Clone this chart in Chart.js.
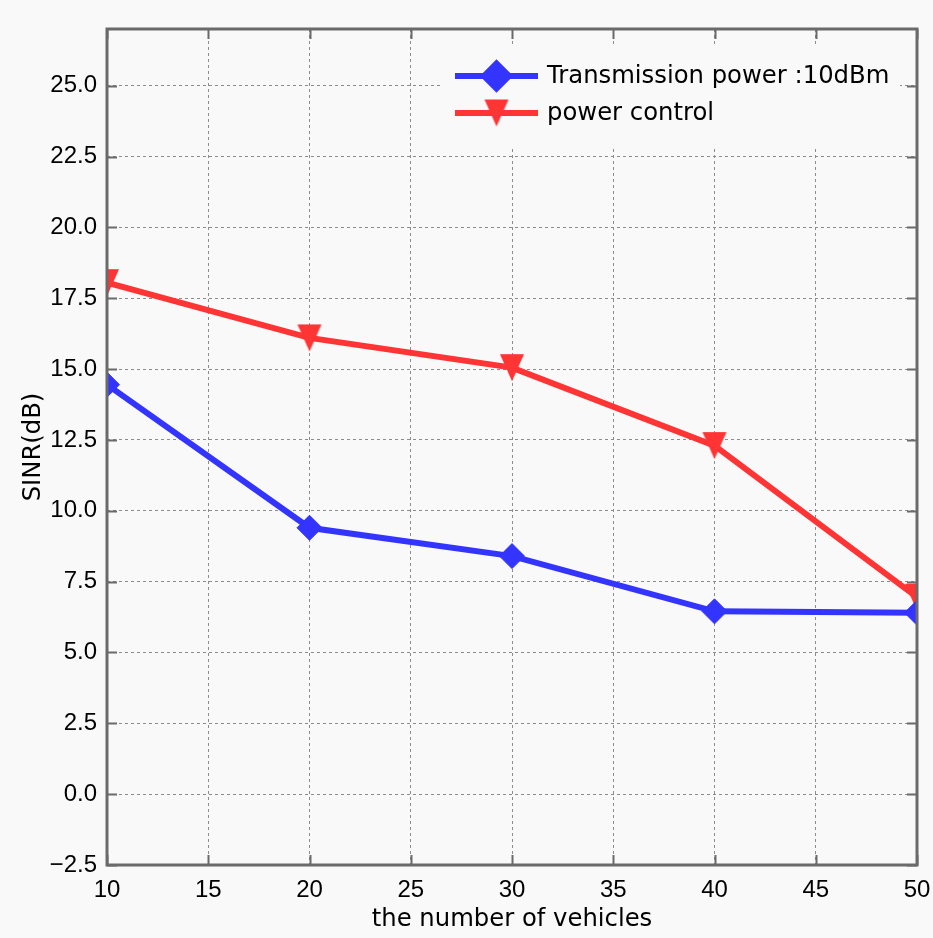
<!DOCTYPE html>
<html>
<head>
<meta charset="utf-8">
<script src="https://cdn.jsdelivr.net/npm/chart.js@4.4.0/dist/chart.umd.min.js"></script>
<style>
  html, body { margin: 0; padding: 0; background: #f9f9f9; }
  #wrap { width: 933px; height: 938px; }
</style>
</head>
<body>
<div id="wrap"><canvas id="sinr" width="933" height="938"></canvas></div>
<script>
const vehicles = [10, 20, 30, 40, 50];
const fixedPower = [14.45, 9.4, 8.4, 6.45, 6.4];
const powerControl = [18.05, 16.1, 15.05, 12.3, 6.95];
const seriesNames = ['Transmission power :10dBm', 'power control'];

const bg = '#f9f9f9'
const blue = '#3434ff'
const red = '#ff3434'
const frameColor = '#6a6a6a'
const textFont = 'DejaVu Sans'

// downward triangle, centred on its bounding box
function makeTriangle(color) {
  let c = document.createElement('canvas')
  c.width = 26
  c.height = 29
  let g = c.getContext('2d')
  g.fillStyle = color
  g.beginPath()
  g.moveTo(1, 1)
  g.lineTo(25, 1)
  g.lineTo(13, 28)
  g.closePath()
  g.fill()
  return c
}
const redTriangle = makeTriangle(red)

function fmtTick(v) {
  return v.toFixed(1).replace('-', '\u2212')
}

const background = {
  id: 'background',
  beforeDraw(chart) {
    const ctx = chart.ctx
    ctx.save()
    ctx.fillStyle = bg
    ctx.fillRect(0, 0, chart.width, chart.height)
    ctx.restore()
  }
}

// box round the plot with inward tick marks on all four sides
const frame = {
  id: 'frame',
  afterDatasetsDraw(chart) {
    const {ctx, chartArea: a, scales} = chart
    ctx.save()
    ctx.strokeStyle = frameColor
    ctx.lineWidth = 2
    ctx.beginPath()
    scales.x.ticks.forEach(t => {
      let px = Math.round(scales.x.getPixelForValue(t.value)) + 0.5
      ctx.moveTo(px, a.bottom); ctx.lineTo(px, a.bottom - 10)
      ctx.moveTo(px, a.top); ctx.lineTo(px, a.top + 10)
    })
    scales.y.ticks.forEach(t => {
      let py = Math.round(scales.y.getPixelForValue(t.value)) + 0.5
      ctx.moveTo(a.left, py); ctx.lineTo(a.left + 10, py)
      ctx.moveTo(a.right, py); ctx.lineTo(a.right - 10, py)
    })
    ctx.stroke()
    ctx.lineWidth = 3
    ctx.strokeRect(a.left, a.top, a.right - a.left, a.bottom - a.top)
    ctx.restore()
  }
}

// legend sits inside the plot, upper right, over the grid
const insideLegend = {
  id: 'insideLegend',
  afterDatasetsDraw(chart) {
    const {ctx, chartArea: a} = chart
    const boxL = a.right - 476, boxT = a.top + 16
    ctx.save()
    ctx.fillStyle = bg
    ctx.fillRect(boxL, boxT, 459, 101)
    chart.data.datasets.forEach((ds, i) => {
      let y = boxT + 31 + i * 37
      let x0 = boxL + 14, x1 = boxL + 97
      ctx.strokeStyle = ds.borderColor
      ctx.lineWidth = ds.borderWidth
      ctx.beginPath()
      ctx.moveTo(x0, y)
      ctx.lineTo(x1, y)
      ctx.stroke()
      ctx.fillStyle = ds.pointBackgroundColor
      ctx.strokeStyle = ds.pointBorderColor
      Chart.helpers.drawPoint(ctx, {
        pointStyle: ds.pointStyle,
        radius: ds.pointRadius,
        rotation: 0,
        borderWidth: ds.pointBorderWidth
      }, (x0 + x1) / 2, y)
      ctx.fillStyle = '#000'
      ctx.font = '24.3px "' + textFont + '"'
      ctx.textBaseline = 'middle'
      ctx.textAlign = 'left'
      ctx.fillText(ds.label, x1 + 9, y + 1)
    })
    ctx.restore()
  }
}

const config = {
  type: 'line',
  data: {
    datasets: [
      {
        label: seriesNames[0],
        data: vehicles.map((v, i) => ({x: v, y: fixedPower[i]})),
        borderColor: blue,
        backgroundColor: blue,
        borderWidth: 6,
        pointStyle: 'rectRot',
        pointRadius: 12.5,
        pointBackgroundColor: blue,
        pointBorderColor: blue,
        pointBorderWidth: 1,
        clip: 0
      },
      {
        label: seriesNames[1],
        data: vehicles.map((v, i) => ({x: v, y: powerControl[i]})),
        borderColor: red,
        backgroundColor: red,
        borderWidth: 6,
        pointStyle: redTriangle,
        pointRadius: 13,
        pointBackgroundColor: red,
        pointBorderColor: red,
        pointBorderWidth: 0,
        clip: 0
      }
    ]
  },
  options: {
    responsive: false,
    animation: false,
    layout: { padding: { top: 29, right: 16, left: 0, bottom: 0 } },
    plugins: {
      legend: { display: false },
      tooltip: { enabled: false }
    },
    scales: {
      x: {
        type: 'linear',
        min: 10,
        max: 50,
        afterFit: s => {
          s.height = 73
          s.paddingLeft = 0
          s.paddingRight = 0
        },
        ticks: {
          stepSize: 5,
          padding: 11,
          color: '#000',
          font: { family: 'Liberation Sans', size: 24 },
          maxRotation: 0
        },
        grid: { color: '#8c8c8c', lineWidth: 1, drawTicks: false },
        border: { display: false, dash: [3, 3] },
        title: {
          display: true,
          text: 'the number of vehicles',
          color: '#000',
          font: { family: textFont, size: 24.3 },
          padding: { top: 0, bottom: 4 }
        }
      },
      y: {
        type: 'linear',
        min: -2.5,
        max: 27,
        afterFit: s => { s.width = 107 },
        ticks: {
          stepSize: 2.5,
          includeBounds: false,
          padding: 10,
          color: '#000',
          font: { family: 'Liberation Sans', size: 24 },
          callback: v => fmtTick(v)
        },
        grid: { color: '#8c8c8c', lineWidth: 1, drawTicks: false },
        border: { display: false, dash: [3, 3] },
        title: {
          display: true,
          text: 'SINR(dB)',
          color: '#000',
          font: { family: textFont, size: 24.3 },
          padding: { top: 19, bottom: 0 }
        }
      }
    }
  },
  plugins: [background, frame, insideLegend]
}

var sinrChart = new Chart(document.getElementById('sinr'), config)
</script>
</body>
</html>
